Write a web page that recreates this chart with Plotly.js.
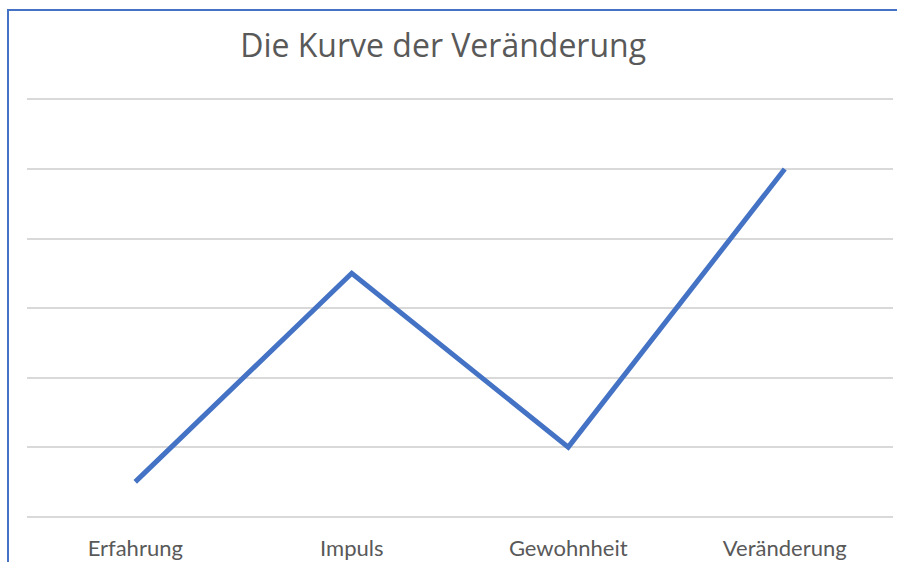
<!DOCTYPE html>
<html>
<head>
<meta charset="utf-8">
<script src="https://cdn.plot.ly/plotly-3.0.1.min.js"></script>
<style>
html,body{margin:0;padding:0;background:#fff;width:897px;height:562px;overflow:hidden;}
#frame{position:absolute;left:7px;top:9px;width:900px;height:600px;border-left:2px solid #4472C4;border-top:2px solid #4472C4;box-sizing:border-box;}
#chart{position:absolute;left:0;top:0;width:897px;height:562px;}
</style>
</head>
<body>
<div id="frame"></div>
<div id="chart"></div>
<script>
const categories = ["Erfahrung", "Impuls", "Gewohnheit", "Veränderung"];
const values = [0.5, 3.5, 1, 5];
const chartTitle = "Die Kurve der Veränderung";

const trace = {
  x: categories,
  y: values,
  type: "scatter",
  mode: "lines",
  line: {color: "#4472C4", width: 5},
  hoverinfo: "none"
};

const layout = {
  width: 897,
  height: 562,
  paper_bgcolor: "rgba(0,0,0,0)",
  plot_bgcolor: "rgba(0,0,0,0)",
  margin: {l: 27, r: 4, t: 96, b: 45},
  showlegend: false,
  title: {
    text: chartTitle,
    font: {family: "Open Sans", size: 32, color: "#595959"},
    xref: "container", x: 0.494, xanchor: "center",
    yref: "container", y: 1 - 46/562, yanchor: "middle"
  },
  xaxis: {
    type: "category",
    range: [-0.5, 3.5],
    showgrid: false,
    zeroline: false,
    showline: false,
    ticks: "outside",
    ticklen: 12,
    tickcolor: "rgba(0,0,0,0)",
    tickfont: {family: "Lato", size: 22, color: "#595959"},
    fixedrange: true
  },
  yaxis: {
    range: [-0.005, 6.05],
    dtick: 1,
    showgrid: true,
    gridcolor: "#d9d9d9",
    gridwidth: 2,
    zeroline: true,
    zerolinecolor: "#d9d9d9",
    zerolinewidth: 2,
    showline: false,
    showticklabels: false,
    ticks: "",
    fixedrange: true
  }
};

Plotly.newPlot("chart", [trace], layout, {staticPlot: true, displayModeBar: false});
</script>
</body>
</html>
